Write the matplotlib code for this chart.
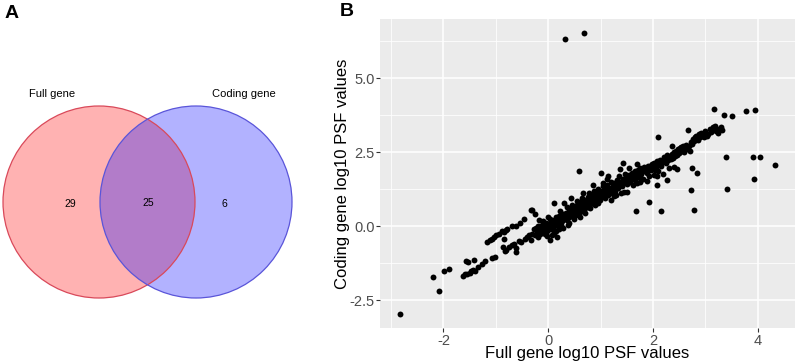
import numpy as np
import matplotlib
matplotlib.use("Agg")
import matplotlib.pyplot as plt
from matplotlib.patches import Circle
from matplotlib.ticker import MultipleLocator

plt.rcParams['font.family'] = ['Liberation Sans', 'DejaVu Sans']
plt.rcParams['axes.unicode_minus'] = False

# venn counts
set_names = ["Full gene", "Coding gene"]
only_full = 29
shared = 25
only_coding = 6

# scatter: log10 PSF values, full gene (x) vs coding gene (y)
pts = [
    # tail and lower band
    (-2.82, -2.96), (-2.09, -2.19), (-2.19, -1.71), (-1.98, -1.51), (-1.90, -1.43),
    (-1.63, -1.67), (-1.58, -1.63), (-1.55, -1.60), (-1.50, -1.57), (-1.47, -1.53),
    (-1.43, -1.48), (-1.40, -1.50), (-1.34, -1.39), (-1.27, -1.27), (-1.21, -1.17),
    (-1.08, -1.07), (-1.01, -1.03), (-1.54, -1.22), (-1.42, -1.13), (-1.56, -1.19),
    # middle band
    (-0.87, -0.71), (-0.80, -0.80), (-0.82, -0.85), (-0.75, -0.69), (-0.65, -0.60),
    (-0.61, -0.86), (-0.51, -0.52), (-0.45, -0.42), (-0.32, -0.46), (-0.84, -0.42),
    (-0.70, -0.65), (-0.40, -0.38), (-0.55, -0.50), (-0.62, -0.75), (-0.36, -0.30),
    # upper band
    (-1.16, -0.52), (-1.12, -0.48), (-1.08, -0.43), (-1.03, -0.38), (-0.99, -0.29),
    (-0.94, -0.26), (-0.89, -0.16), (-0.85, -0.20), (-0.81, -0.12), (-0.78, -0.10),
    (-0.70, 0.02), (-0.62, 0.02), (-0.54, 0.11), (-0.46, 0.24), (-0.32, 0.55),
    (-0.26, 0.42),
    # dense cluster near zero
    (-0.30, -0.25), (-0.28, -0.10), (-0.26, -0.30), (-0.24, -0.05), (-0.22, -0.20),
    (-0.20, -0.35), (-0.19, 0.00), (-0.17, -0.15), (-0.15, -0.28), (-0.14, -0.08),
    (-0.12, 0.05), (-0.11, -0.20), (-0.09, -0.12), (-0.08, 0.02), (-0.06, -0.25),
    (-0.05, -0.05), (-0.04, 0.10), (-0.02, -0.15), (-0.01, -0.02), (0.03, -0.46),
    (0.01, 0.08), (0.02, -0.10), (0.03, 0.02), (0.05, -0.08), (0.06, 0.15),
    (0.07, 0.00), (0.09, 0.10), (0.10, -0.05), (0.11, 0.20), (0.13, 0.05),
    (0.14, 0.30), (0.15, -0.15), (0.16, 0.12), (0.18, 0.22), (0.19, 0.02),
    (0.21, 0.35), (0.22, 0.15), (0.24, 0.05), (0.25, 0.28), (0.17, -0.35),
    (0.27, 0.18), (0.29, 0.40), (0.30, 0.25), (0.11, 0.80), (-0.31, 0.55),
    (-0.10, 0.18), (0.04, 0.25), (0.20, -0.08), (-0.03, -0.32), (0.12, -0.22),
    (-0.18, 0.22), (0.00, 0.32), (0.08, -0.30), (0.23, 0.50), (0.28, -0.05),
    # 0.3 .. 1.0
    (0.32, 0.30), (0.34, 0.45), (0.35, 0.20), (0.37, 0.38), (0.39, 0.50),
    (0.40, 0.30), (0.42, 0.42), (0.44, 0.60), (0.45, 0.35), (0.47, 0.50),
    (0.48, 0.65), (0.50, 0.45), (0.52, 0.55), (0.53, 0.38), (0.55, 0.70),
    (0.56, 0.52), (0.58, 0.62), (0.60, 0.48), (0.61, 0.75), (0.63, 0.60),
    (0.64, 0.85), (0.66, 0.55), (0.67, 0.70), (0.69, 0.80), (0.70, 0.62),
    (0.72, 0.90), (0.73, 0.72), (0.75, 0.65), (0.76, 0.85), (0.78, 0.95),
    (0.79, 0.75), (0.81, 0.88), (0.82, 1.05), (0.84, 0.80), (0.85, 0.95),
    (0.87, 1.20), (0.88, 0.85), (0.90, 1.00), (0.91, 1.10), (0.93, 0.92),
    (0.95, 1.25), (0.96, 1.05), (0.98, 0.90), (0.99, 1.15), (0.78, 0.89),
    (0.58, 1.87), (1.01, 1.79),
    (0.31, 0.80), (0.44, 0.94), (0.66, 1.11), (0.78, 1.11), (0.85, 1.39),
    (1.04, 1.45), (0.35, 0.65), (0.40, 0.10), (0.45, 0.70), (0.50, 0.25),
    (0.55, 0.85), (0.60, 0.30), (0.65, 0.95), (0.70, 0.45), (0.75, 1.00),
    (0.80, 0.60), (0.85, 1.10), (0.90, 0.70), (0.95, 0.80), (0.38, 0.05),
    # 1.0 .. 2.0
    (1.01, 1.00), (1.03, 1.20), (1.05, 1.35), (1.06, 1.08), (1.08, 0.95),
    (1.10, 1.25), (1.11, 1.15), (1.13, 1.40), (1.15, 1.05), (1.16, 1.30),
    (1.18, 1.22), (1.20, 1.50), (1.21, 1.12), (1.23, 1.35), (1.25, 1.28),
    (1.26, 1.45), (1.28, 1.20), (1.30, 1.38), (1.31, 1.55), (1.33, 1.30),
    (1.35, 1.45), (1.36, 1.70), (1.38, 1.40), (1.40, 1.52), (1.41, 1.35),
    (1.43, 1.60), (1.45, 1.48), (1.46, 1.75), (1.48, 1.55), (1.50, 1.42),
    (1.51, 1.65), (1.53, 1.58), (1.55, 1.72), (1.56, 1.50), (1.58, 1.68),
    (1.60, 1.80), (1.61, 1.62), (1.63, 1.75), (1.65, 1.55), (1.66, 1.85),
    (1.68, 1.70), (1.70, 1.78), (1.71, 1.90), (1.73, 1.65), (1.75, 1.82),
    (1.76, 1.95), (1.78, 1.75), (1.80, 1.88), (1.81, 1.58), (1.83, 2.00),
    (1.85, 1.85), (1.86, 1.92), (1.88, 1.80), (1.90, 2.05), (1.91, 1.95),
    (1.93, 1.70), (1.95, 2.02), (1.96, 1.90), (1.98, 2.10), (2.00, 1.98),
    (1.07, 1.08), (1.26, 1.03), (1.45, 1.15), (1.61, 1.40), (1.76, 1.49),
    (1.42, 2.12), (1.70, 2.10), (1.67, 0.52), (1.92, 0.83),
    (1.15, 1.70), (1.37, 1.93), (1.20, 0.89), (1.39, 1.11), (1.51, 1.17),
    (1.70, 1.45), (1.89, 1.51), (1.12, 1.60), (1.55, 1.95), (1.30, 1.05),
    # 2.0 .. 3.3
    (2.02, 2.15), (2.04, 1.90), (2.06, 2.08), (2.08, 2.20), (2.10, 1.85),
    (2.12, 2.12), (2.14, 2.25), (2.16, 2.05), (2.18, 2.18), (2.20, 1.75),
    (2.22, 2.30), (2.24, 2.15), (2.26, 2.40), (2.28, 2.22), (2.30, 1.95),
    (2.32, 2.35), (2.34, 2.28), (2.36, 2.45), (2.38, 2.30), (2.40, 2.50),
    (2.42, 2.38), (2.44, 2.55), (2.46, 2.42), (2.48, 2.60), (2.50, 2.48),
    (2.52, 2.65), (2.55, 2.55), (2.57, 2.70), (2.59, 2.50), (2.61, 2.62),
    (2.63, 2.75), (2.65, 2.60), (2.68, 2.72), (2.70, 2.55), (2.72, 2.85),
    (2.74, 2.78), (2.76, 2.95), (2.78, 2.88), (2.80, 3.00), (2.82, 3.05),
    (2.85, 2.90), (2.87, 3.10), (2.90, 3.02), (2.92, 3.15), (2.95, 3.08),
    (2.98, 3.00), (3.00, 3.20), (3.03, 3.05), (3.05, 3.12), (3.08, 3.30),
    (3.10, 3.18), (3.12, 3.25), (3.15, 3.35), (3.18, 3.40), (3.20, 3.22),
    (3.22, 3.30), (3.25, 3.15), (3.28, 3.28), (3.30, 3.35), (3.32, 3.25),
    (2.09, 3.00), (2.37, 2.71), (2.53, 2.69), (2.66, 3.24), (2.75, 1.96),
    (2.84, 1.79), (2.05, 1.96), (2.27, 1.56), (2.07, 1.39), (2.21, 2.35),
    (2.40, 2.01), (2.46, 1.94), (2.02, 1.73), (2.15, 0.52), (2.73, 1.22),
    (2.79, 0.54), (2.08, 1.68),
    # far outliers
    (0.33, 6.33), (0.69, 6.54), (3.16, 3.95), (3.78, 3.88), (3.95, 3.92),
    (3.35, 3.74), (3.51, 3.72), (3.39, 2.34), (3.91, 2.34), (4.04, 2.34),
    (4.33, 2.06), (3.93, 1.61), (3.41, 1.25),
]
full_gene = [p[0] for p in pts]
coding_gene = [p[1] for p in pts]

W, H = 796, 363
fig = plt.figure(figsize=(W / 100, H / 100), dpi=100)

# ---- panel A: venn, drawn in pixel space
axA = fig.add_axes([0, 0, 330 / W, 1])
axA.set_xlim(0, 330)
axA.set_ylim(H, 0)
axA.axis('off')
r = 96
c1 = (99, 202)
c2 = (196, 202)
axA.add_patch(Circle(c1, r, facecolor='red', alpha=0.3, edgecolor='none'))
axA.add_patch(Circle(c2, r, facecolor='blue', alpha=0.3, edgecolor='none'))
axA.add_patch(Circle(c1, r, facecolor='none', edgecolor='#d9495a', lw=0.9))
axA.add_patch(Circle(c2, r, facecolor='none', edgecolor='#5a55d9', lw=0.9))
axA.text(52, 94, set_names[0], ha='center', va='center', fontsize=8)
axA.text(244, 94, set_names[1], ha='center', va='center', fontsize=8)
axA.text(70, 204, str(only_full), ha='center', va='center', fontsize=7.5)
axA.text(148, 203, str(shared), ha='center', va='center', fontsize=7.5)
axA.text(224, 204, str(only_coding), ha='center', va='center', fontsize=7.5)
fig.text(5 / W, 1 - 13 / H, 'A', fontsize=14, fontweight='bold', ha='left', va='center')

# ---- panel B: scatter, ggplot look
axB = fig.add_axes([380 / W, 35 / H, 415 / W, 309 / H])
axB.set_facecolor('#EBEBEB')
for s in axB.spines.values():
    s.set_visible(False)
axB.xaxis.set_major_locator(MultipleLocator(2))
axB.xaxis.set_minor_locator(MultipleLocator(1))
axB.yaxis.set_major_locator(MultipleLocator(2.5))
axB.yaxis.set_minor_locator(MultipleLocator(1.25))
axB.grid(which='major', color='white', lw=1.1)
axB.grid(which='minor', color='white', lw=0.55)
axB.set_axisbelow(True)
axB.tick_params(which='major', length=3, width=0.8, color='#333333',
                labelsize=10.5, labelcolor='#4D4D4D', pad=1)
axB.tick_params(which='minor', length=0)
axB.scatter(full_gene, coding_gene, s=18, color='black', linewidths=0, zorder=3)
axB.set_xlim(-3.21, 4.71)
axB.set_ylim(-3.44, 7.0)
axB.yaxis.set_major_formatter(plt.FuncFormatter(lambda v, _: f'{v:.1f}'))
axB.set_xlabel('Full gene log10 PSF values', fontsize=12, labelpad=-1)
axB.set_ylabel('Coding gene log10 PSF values', fontsize=12, labelpad=-0.5)
fig.text(340 / W, 1 - 12 / H, 'B', fontsize=14, fontweight='bold', ha='left', va='center')

fig.savefig('out.png', dpi=100)
